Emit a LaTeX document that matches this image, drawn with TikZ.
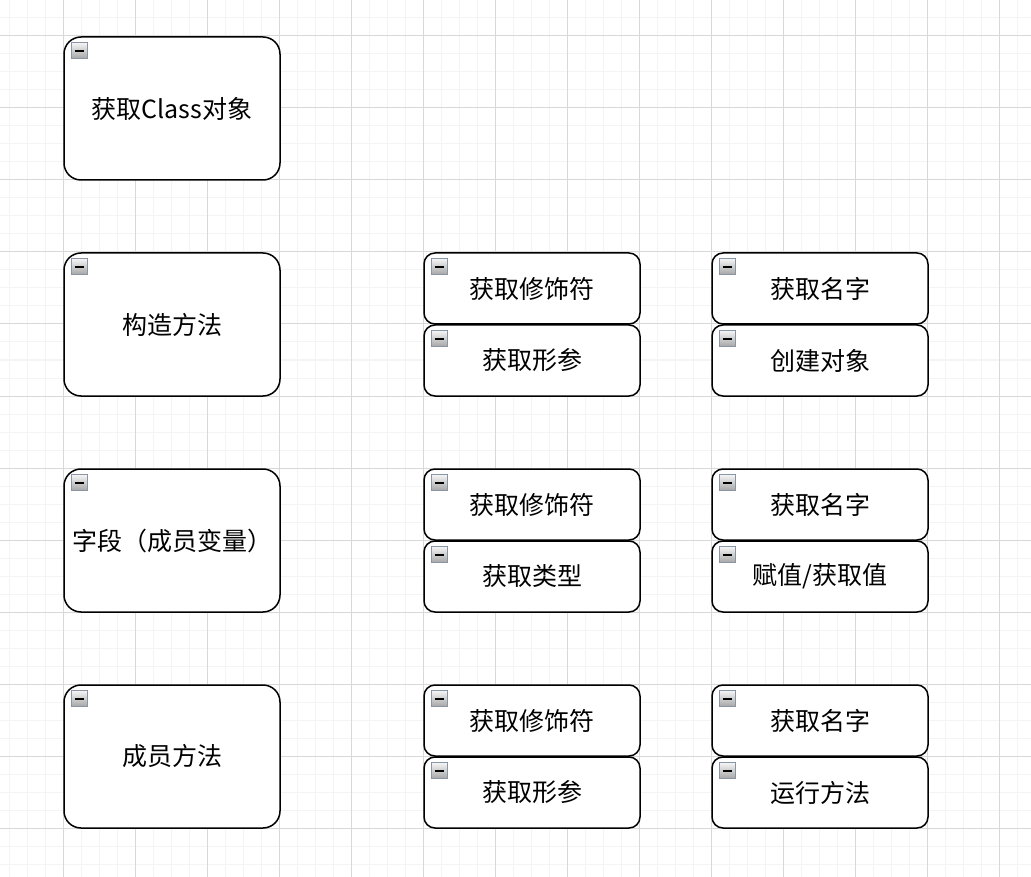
\documentclass[tikz,border=0pt]{standalone}
\usepackage{fontspec}
\newfontfamily\cjk{Noto Sans CJK SC}
\definecolor{gridmajor}{HTML}{D8D8D8}
\definecolor{gridminor}{HTML}{F4F4F4}
\definecolor{iconborder}{HTML}{8A94A4}
\definecolor{icontop}{HTML}{F4F4F4}
\definecolor{iconbot}{HTML}{A4A4A4}
\tikzset{
  bigbox/.style={draw=black, line width=1.5pt, fill=white, rounded corners=17pt,
    minimum width=216pt, minimum height=143pt, inner sep=0pt,
    font=\cjk\fontsize{25}{29}\selectfont},
  smallbox/.style={draw=black, line width=1.5pt, fill=white, rounded corners=11pt,
    minimum width=216pt, minimum height=71pt, inner sep=0pt,
    font=\cjk\fontsize{25}{29}\selectfont},
  minusicon/.pic={
    \shade[top color=icontop, bottom color=iconbot, draw=iconborder, line width=1pt]
      (0,0) rectangle (16,16);
    \draw[black, line width=2pt] (3.5,8) -- (12.5,8);
  }
}
\begin{document}
\begin{tikzpicture}[x=1pt, y=-1pt]
\useasboundingbox (0,0) rectangle (1031,877);
\fill[white] (0,0) rectangle (1031,877);
% minor grid
\foreach \x in {9,27,...,1031} \draw[gridminor, line width=1pt] (\x,0) -- (\x,877);
\foreach \y in {0,18,...,877} \draw[gridminor, line width=1pt] (0,\y) -- (1031,\y);
% major grid
\foreach \x in {63,135,...,1031} \draw[gridmajor, line width=1pt] (\x,0) -- (\x,877);
\foreach \y in {36,108,...,877} \draw[gridmajor, line width=1pt] (0,\y) -- (1031,\y);

% left column
\node[bigbox] (cls) at (172,108.5) {获取Class对象};
\node[bigbox] (ctor) at (172,324.5) {构造方法};
\node[bigbox] (field) at (172,540.5) {字段（成员变量）};
\node[bigbox] (meth) at (172,756.5) {成员方法};

% constructor group
\node[smallbox] (cmod) at (532,288.5) {获取修饰符};
\node[smallbox] (cpar) at (532,360.5) {获取形参};
\node[smallbox] (cname) at (820,288.5) {获取名字};
\node[smallbox] (cnew) at (820,360.5) {创建对象};

% field group
\node[smallbox] (fmod) at (532,504.5) {获取修饰符};
\node[smallbox] (ftype) at (532,576.5) {获取类型};
\node[smallbox] (fname) at (820,504.5) {获取名字};
\node[smallbox] (fval) at (820,576.5) {赋值/获取值};

% method group
\node[smallbox] (mmod) at (532,720.5) {获取修饰符};
\node[smallbox] (mpar) at (532,792.5) {获取形参};
\node[smallbox] (mname) at (820,720.5) {获取名字};
\node[smallbox] (mrun) at (820,792.5) {运行方法};

\foreach \n in {cls,ctor,field,meth,cmod,cpar,cname,cnew,fmod,ftype,fname,fval,mmod,mpar,mname,mrun}
  \pic at ([shift={(8,6.5)}]\n.north west) {minusicon};
\end{tikzpicture}
\end{document}
